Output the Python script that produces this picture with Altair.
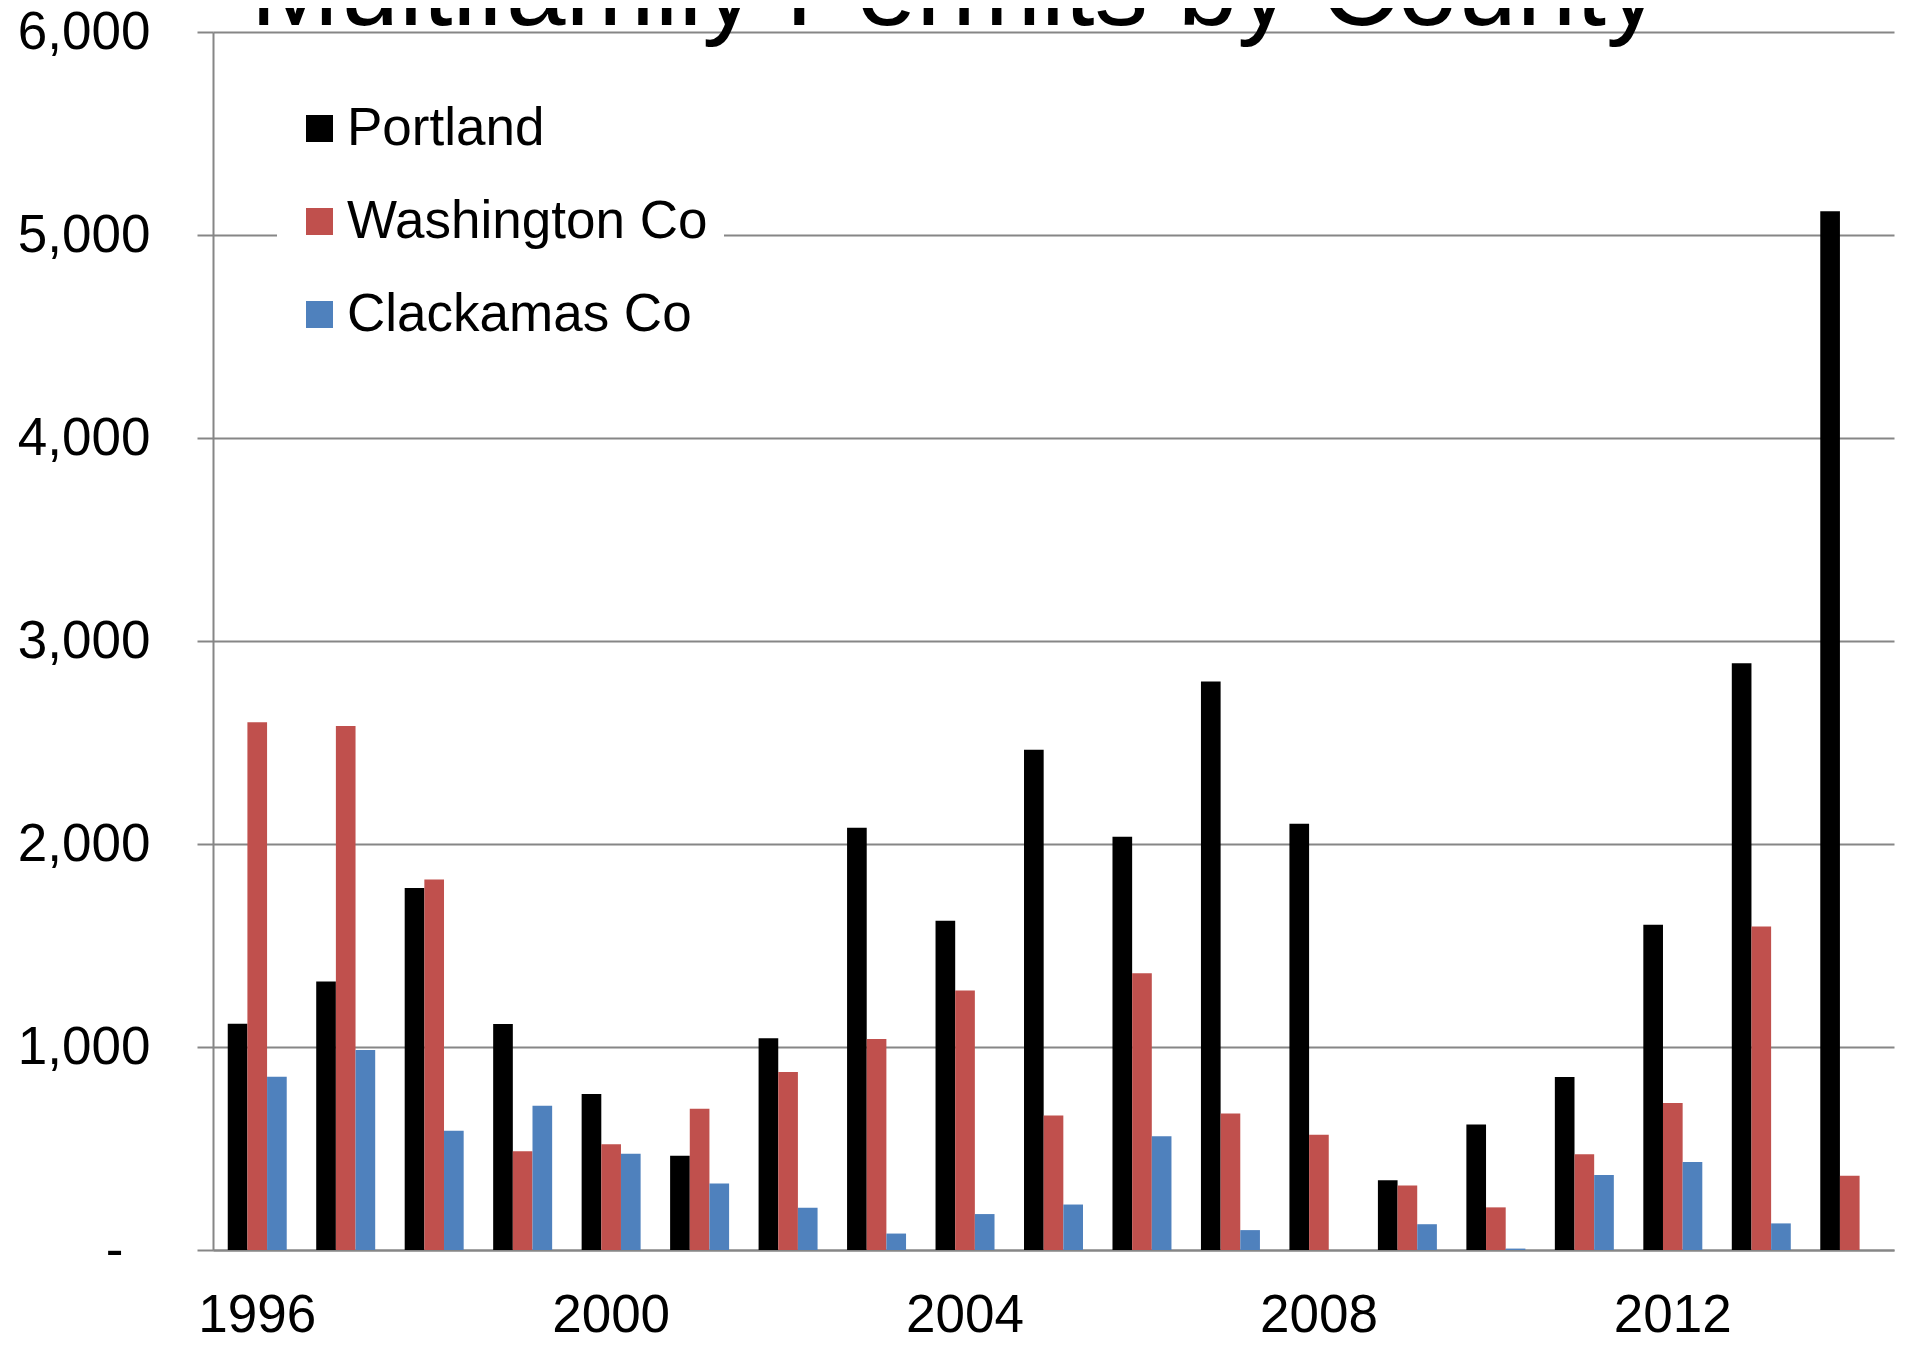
import altair as alt
import pandas as pd

TITLE = "Multifamily Permits by County"
YEARS = [str(y) for y in range(1996, 2015)]
SERIES = ["Portland", "Washington Co", "Clackamas Co"]
COLORS = ["#000000", "#C0504D", "#4F81BD"]
PORTLAND = [1115, 1323, 1783, 1113, 768, 464, 1043, 2080, 1622, 2464, 2036,
            2801, 2100, 344, 618, 852, 1602, 2891, 5117]
WASHINGTON = [2600, 2581, 1825, 487, 521, 696, 877, 1040, 1278, 662, 1363,
              673, 568, 318, 210, 472, 724, 1594, 366]
CLACKAMAS = [853, 985, 587, 711, 474, 328, 208, 81, 177, 224, 560,
             98, 0, 127, 7, 369, 433, 131, 0]
Y_TICKS = [0, 1000, 2000, 3000, 4000, 5000, 6000]
X_LABELED = ["1996", "2000", "2004", "2008", "2012"]

FONT = "Liberation Sans"
GRAY = "#868686"

rows = []
for name, vals in zip(SERIES, [PORTLAND, WASHINGTON, CLACKAMAS]):
    for yr, v in zip(YEARS, vals):
        rows.append({"year": yr, "series": name, "value": v})
df = pd.DataFrame(rows)

x_label_expr = "indexof([" + ",".join("'" + s + "'" for s in X_LABELED) + "], datum.label) >= 0 ? datum.label : ''"
y_label_expr = "datum.value == 0 ? '-' : format(datum.value, ',')"

bars = alt.Chart(df).mark_bar().encode(
    x=alt.X("year:O", sort=YEARS,
            scale=alt.Scale(paddingInner=1/3, paddingOuter=1/6),
            axis=alt.Axis(title=None, labelExpr=x_label_expr, labelAngle=0,
                          labelFont=FONT, labelFontSize=53, labelColor="black",
                          labelPadding=39, ticks=False, tickSize=0,
                          domainColor=GRAY, domainWidth=2, grid=False)),
    xOffset=alt.XOffset("series:N", sort=SERIES,
                        scale=alt.Scale(paddingInner=0, paddingOuter=0)),
    y=alt.Y("value:Q", scale=alt.Scale(domain=[0, 6000], nice=False),
            axis=alt.Axis(title=None, values=Y_TICKS, labelExpr=y_label_expr,
                          labelFont=FONT, labelFontSize=53, labelColor="black",
                          labelPadding=alt.expr("datum.value == 0 ? 74 : 47"),
                          tickSize=16, tickColor=GRAY, tickWidth=2,
                          domainColor=GRAY, domainWidth=2, grid=True,
                          gridColor=GRAY, gridWidth=2, labelBaseline="middle")),
    color=alt.Color("series:N", sort=SERIES,
                    scale=alt.Scale(domain=SERIES, range=COLORS),
                    legend=alt.Legend(title=None, orient="none", legendX=64, legendY=54,
                                      symbolType="square", symbolSize=729,
                                      symbolStrokeWidth=0, labelFont=FONT,
                                      labelFontSize=53, labelColor="black",
                                      labelLimit=1000,
                                      labelOffset=1, rowPadding=39, padding=16,
                                      fillColor="white")),
)

title = alt.Chart(pd.DataFrame({"t": [TITLE]})).mark_text(
    font=FONT, fontSize=107, align="center", baseline="alphabetic", color="black"
).encode(text="t:N", x=alt.value(742), y=alt.value(-7))

chart = alt.layer(bars, title).properties(
    width=1681, height=1218,
    autosize=alt.AutoSizeParams(type="none"),
    padding={"left": 205, "top": 24, "right": 10, "bottom": 86},
).configure_view(stroke=None)

chart.save("out.html", embed_options={"renderer": "svg", "actions": False})
